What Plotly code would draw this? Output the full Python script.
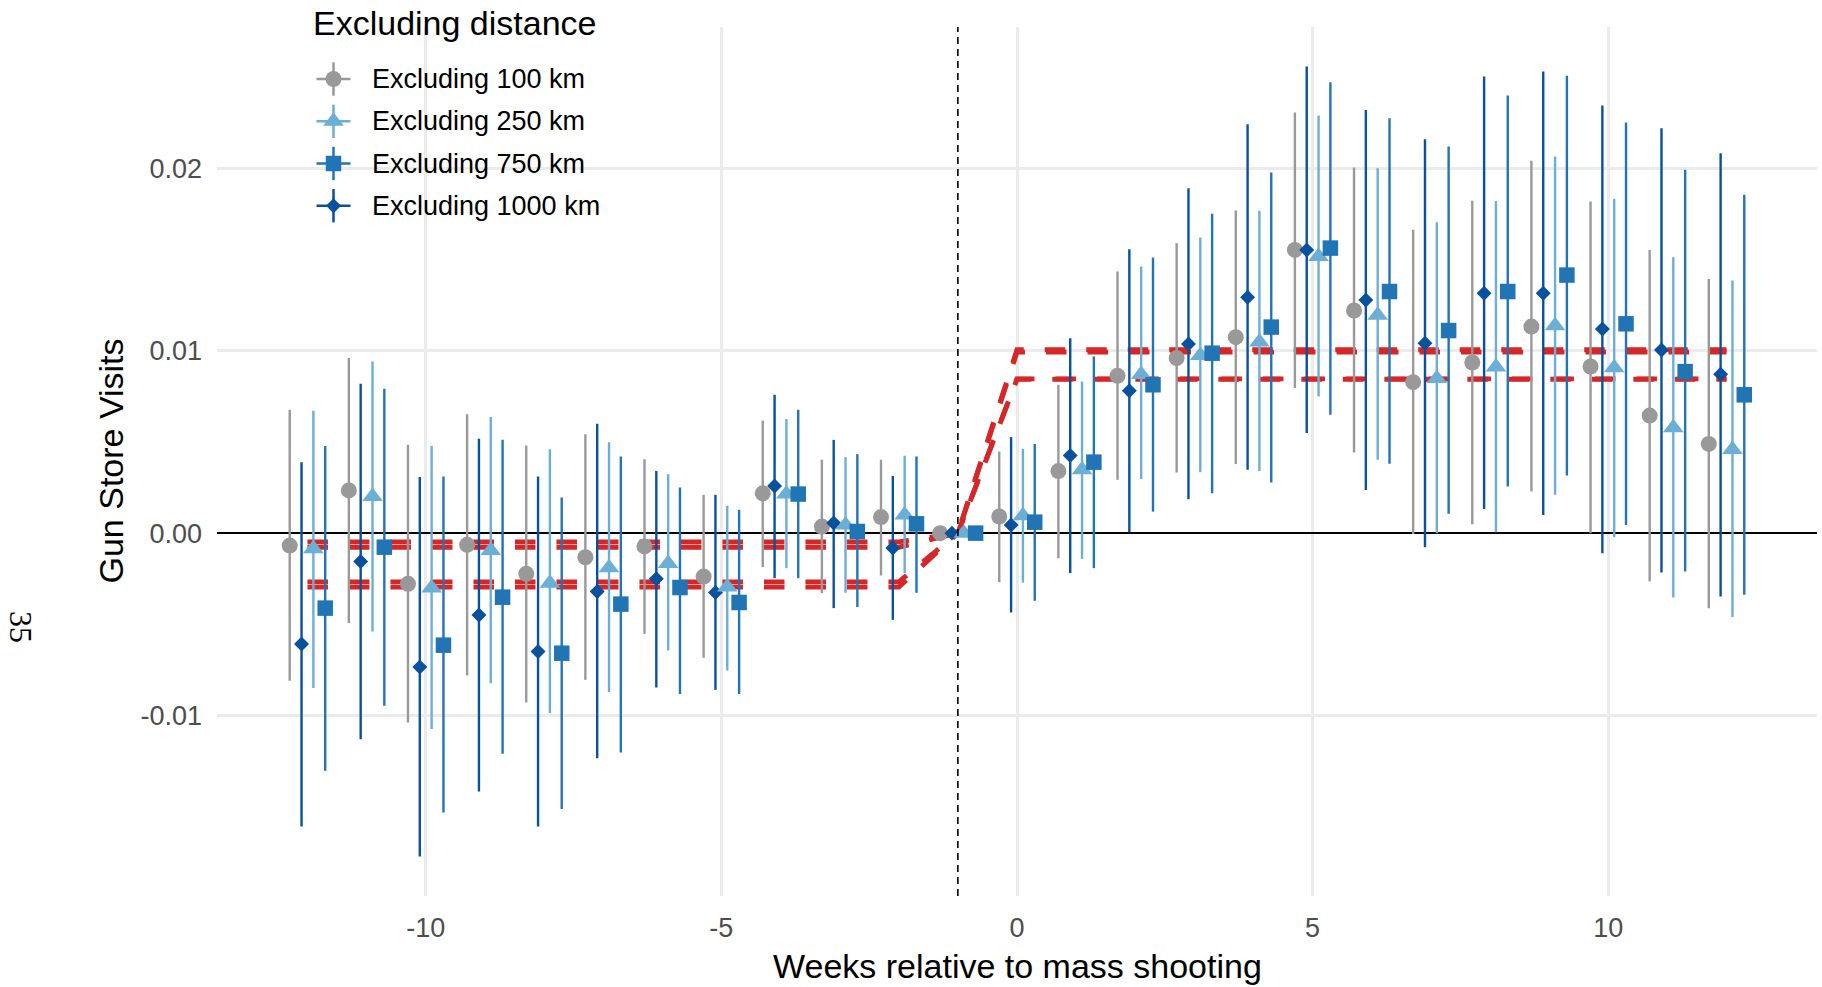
import plotly.graph_objects as go

# ---------------- data ----------------
weeks = list(range(-12, 13))

# Excluding 100 km (grey circles)
est_100 = [-0.00068, 0.00234, -0.00278, -0.00064, -0.00223, -0.00132, -0.00073, -0.00238, 0.00218, 0.00036, 0.00088, 0.0,
           0.00091, 0.00340, 0.00862, 0.00959, 0.01074, 0.01552, 0.01220, 0.00827, 0.00935, 0.01132, 0.00913, 0.00644, 0.00489]
lo_100 = [-0.00809, -0.00493, -0.01038, -0.00780, -0.00928, -0.00804, -0.00552, -0.00683, -0.00186, -0.00329, -0.00232, 0.0,
          -0.00269, -0.00137, 0.00292, 0.00332, 0.00378, 0.00795, 0.00442, -0.00005, 0.00049, 0.00228, 0.0, -0.00265, -0.00411]
hi_100 = [0.00676, 0.00959, 0.00484, 0.00652, 0.00480, 0.00542, 0.00405, 0.00210, 0.00617, 0.00402, 0.00402, 0.0,
          0.00447, 0.00813, 0.01434, 0.01589, 0.01768, 0.02305, 0.02003, 0.01662, 0.01822, 0.02040, 0.01817, 0.01552, 0.01392]

# Excluding 250 km (light blue triangles)
est_250 = [-0.00085, 0.00201, -0.00301, -0.00095, -0.00274, -0.00190, -0.00166, -0.00295, 0.00214, 0.00045, 0.00100, 0.0,
           0.00095, 0.00347, 0.00869, 0.00973, 0.01048, 0.01516, 0.01194, 0.00847, 0.00911, 0.01136, 0.00906, 0.00577, 0.00458]
lo_250 = [-0.00849, -0.00539, -0.01074, -0.00822, -0.00986, -0.00871, -0.00643, -0.00753, -0.00192, -0.00327, -0.00219, 0.0,
          -0.00271, -0.00141, 0.00296, 0.00334, 0.00341, 0.00749, 0.00402, 0.0, 0.00005, 0.00210, -0.00022, -0.00353, -0.00460]
hi_250 = [0.00670, 0.00940, 0.00478, 0.00636, 0.00460, 0.00498, 0.00323, 0.00150, 0.00625, 0.00416, 0.00424, 0.0,
          0.00462, 0.00831, 0.01461, 0.01620, 0.01766, 0.02288, 0.02000, 0.01704, 0.01820, 0.02064, 0.01832, 0.01512, 0.01384]

# Excluding 750 km (blue squares)
est_750 = [-0.00411, -0.00077, -0.00614, -0.00351, -0.00658, -0.00389, -0.00298, -0.00380, 0.00214, 0.00009, 0.00051, 0.0,
           0.00060, 0.00389, 0.00813, 0.00986, 0.01129, 0.01562, 0.01324, 0.01110, 0.01324, 0.01414, 0.01147, 0.00885, 0.00758]
lo_750 = [-0.01302, -0.00946, -0.01531, -0.01209, -0.01512, -0.01202, -0.00882, -0.00882, -0.00247, -0.00405, -0.00327, 0.0,
          -0.00371, -0.00192, 0.00118, 0.00219, 0.00277, 0.00648, 0.00380, 0.00106, 0.00255, 0.00316, 0.00045, -0.00210, -0.00338]
hi_750 = [0.00478, 0.00791, 0.00310, 0.00511, 0.00195, 0.00420, 0.00250, 0.00128, 0.00676, 0.00433, 0.00420, 0.0,
          0.00489, 0.00968, 0.01510, 0.01750, 0.01976, 0.02471, 0.02274, 0.02118, 0.02398, 0.02506, 0.02250, 0.01991, 0.01854]

# Excluding 1000 km (dark blue diamonds)
est_1000 = [-0.00608, -0.00155, -0.00734, -0.00449, -0.00649, -0.00320, -0.00250, -0.00325, 0.00258, 0.00055, -0.00082, 0.0,
            0.00045, 0.00425, 0.00780, 0.01036, 0.01293, 0.01552, 0.01278, 0.01041, 0.01315, 0.01315, 0.01118, 0.01004, 0.00871]
lo_1000 = [-0.01608, -0.01129, -0.01772, -0.01416, -0.01608, -0.01233, -0.00846, -0.00859, -0.00247, -0.00411, -0.00475, 0.0,
           -0.00435, -0.00219, 0.00005, 0.00186, 0.00347, 0.00548, 0.00237, -0.00077, 0.00132, 0.00100, -0.00110, -0.00216, -0.00347]
hi_1000 = [0.00389, 0.00818, 0.00307, 0.00517, 0.00310, 0.00599, 0.00341, 0.00210, 0.00758, 0.00511, 0.00314, 0.0,
           0.00526, 0.01068, 0.01556, 0.01890, 0.02241, 0.02557, 0.02319, 0.02159, 0.02502, 0.02529, 0.02343, 0.02219, 0.02082]

# fitted trend-break lines (red dashed): knots and levels
fit_weeks = [-12, -2, -1, 0, 12]
fit_pre = [-0.00048, -0.00077, -0.00267, -0.00296]
fit_post = [0.01005, 0.00992, 0.00845, 0.00843]

legend_labels = ["Excluding 100 km", "Excluding 250 km", "Excluding 750 km", "Excluding 1000 km"]
y_tickvals = [-0.01, 0.0, 0.01, 0.02]
y_ticktext = ["-0.01", "0.00", "0.01", "0.02"]
x_tickvals = [-10, -5, 0, 5, 10]
x_ticktext = ["-10", "-5", "0", "5", "10"]

# ---------------- styling ----------------
W, H = 1822, 987
L, R, T, B = 217, 5, 27, 91
pw, ph = W - L - R, H - T - B
FONT = "Liberation Sans, Arial, Helvetica, sans-serif"
RED = "#D62728"

def pxx(x):
    return (x - L) / pw

def pxy(y):
    return (H - B - y) / ph

styles = {
    "Excluding 100 km": dict(color="#999999", symbol="circle", size=16, dodge=-0.3),
    "Excluding 1000 km": dict(color="#08519C", symbol="diamond", size=11.5, dodge=-0.1),
    "Excluding 250 km": dict(color="#6BAED6", symbol="triangle-up", size=18, dodge=0.1),
    "Excluding 750 km": dict(color="#2175B4", symbol="square", size=15.5, dodge=0.3),
}
data = {
    "Excluding 100 km": (est_100, lo_100, hi_100),
    "Excluding 1000 km": (est_1000, lo_1000, hi_1000),
    "Excluding 250 km": (est_250, lo_250, hi_250),
    "Excluding 750 km": (est_750, lo_750, hi_750),
}

fig = go.Figure()

# red dashed fitted lines
for pre, post in zip(fit_pre, fit_post):
    fig.add_trace(go.Scatter(
        x=fit_weeks, y=[pre, pre, 0.0, post, post], mode="lines",
        line=dict(color=RED, width=4.9, dash="20.5px,21px"),
        showlegend=False, hoverinfo="skip"))

# point ranges (drawn in factor order)
for name in ["Excluding 100 km", "Excluding 1000 km", "Excluding 250 km", "Excluding 750 km"]:
    est, lo, hi = data[name]
    st = styles[name]
    fig.add_trace(go.Scatter(
        x=[w + st["dodge"] for w in weeks], y=est, mode="markers", name=name,
        marker=dict(color=st["color"], symbol=st["symbol"], size=st["size"], line=dict(width=0)),
        error_y=dict(type="data", symmetric=False,
                     array=[h - e for h, e in zip(hi, est)],
                     arrayminus=[e - l for e, l in zip(est, lo)],
                     color=st["color"], thickness=2.4, width=0),
        showlegend=False))

# axis ranges like ggplot (5% expansion)
all_x = [w + s["dodge"] for w in weeks for s in styles.values()]
xmin, xmax = min(all_x), max(all_x)
xpad = 0.05 * (xmax - xmin)
all_lo = lo_100 + lo_250 + lo_750 + lo_1000
all_hi = hi_100 + hi_250 + hi_750 + hi_1000
ymin, ymax = min(all_lo), max(all_hi)
ypad = 0.05 * (ymax - ymin)

# manual legend on a pixel overlay axis
key_x = 333.5
key_y = [79, 121.3, 163.5, 205.7]
for lab, ky in zip(legend_labels, key_y):
    st = styles[lab]
    fig.add_trace(go.Scatter(x=[key_x - 17, key_x + 17], y=[ky, ky], mode="lines",
                             line=dict(color=st["color"], width=2.5), xaxis="x2", yaxis="y2",
                             showlegend=False, hoverinfo="skip"))
    fig.add_trace(go.Scatter(x=[key_x, key_x], y=[ky - 16.7, ky + 16.7], mode="lines",
                             line=dict(color=st["color"], width=2.5), xaxis="x2", yaxis="y2",
                             showlegend=False, hoverinfo="skip"))
    fig.add_trace(go.Scatter(x=[key_x], y=[ky], mode="markers",
                             marker=dict(color=st["color"], symbol=st["symbol"], size=st["size"], line=dict(width=0)),
                             xaxis="x2", yaxis="y2", showlegend=False, hoverinfo="skip"))

annotations = []
for lab, ky in zip(legend_labels, key_y):
    annotations.append(dict(text=lab, x=370, y=ky, xref="x2", yref="y2", xanchor="left", yanchor="middle",
                            showarrow=False, font=dict(family=FONT, size=27, color="black")))
annotations.append(dict(text="Excluding distance", x=pxx(311), y=pxy(23), xref="paper", yref="paper",
                        xanchor="left", yanchor="middle", showarrow=False,
                        font=dict(family=FONT, size=34, color="black")))
annotations.append(dict(text="Weeks relative to mass shooting", x=0.5, y=pxy(966), xref="paper", yref="paper",
                        xanchor="center", yanchor="middle", showarrow=False,
                        font=dict(family=FONT, size=34, color="black")))
annotations.append(dict(text="Gun Store Visits", x=pxx(110), y=0.5, xref="paper", yref="paper",
                        xanchor="center", yanchor="middle", textangle=-90, showarrow=False,
                        font=dict(family=FONT, size=34, color="black")))
annotations.append(dict(text="35", x=pxx(21), y=pxy(627), xref="paper", yref="paper",
                        xanchor="center", yanchor="middle", textangle=90, showarrow=False,
                        font=dict(family="Liberation Serif, DejaVu Serif, serif", size=32, color="black")))

fig.update_layout(
    width=W, height=H,
    margin=dict(l=L, r=R, t=T, b=B, pad=0),
    paper_bgcolor="white", plot_bgcolor="white",
    font=dict(family=FONT),
    showlegend=False,
    xaxis=dict(range=[xmin - xpad, xmax + xpad], tickvals=x_tickvals, ticktext=x_ticktext,
               showgrid=True, gridcolor="#EBEBEB", gridwidth=2.6, zeroline=False,
               showline=False, ticks="", ticklabelstandoff=13,
               tickfont=dict(family=FONT, size=27, color="#4D4D4D")),
    yaxis=dict(range=[ymin - ypad, ymax + ypad], tickvals=y_tickvals, ticktext=y_ticktext,
               showgrid=True, gridcolor="#EBEBEB", gridwidth=2.6,
               zeroline=True, zerolinecolor="black", zerolinewidth=1.8,
               showline=False, ticks="", ticklabelstandoff=14,
               tickfont=dict(family=FONT, size=27, color="#4D4D4D")),
    xaxis2=dict(overlaying="x", range=[L, W - R], visible=False),
    yaxis2=dict(overlaying="y", range=[H - B, T], visible=False),
    shapes=[dict(type="line", xref="x", yref="paper", x0=-1, x1=-1, y0=0, y1=1,
                 line=dict(color="black", width=1.6, dash="7px,5px"), layer="above")],
    annotations=annotations,
)

fig.write_html(
    "out.html",
    config={"displayModeBar": False},
    post_script="document.body.style.margin='0';document.body.style.padding='0';"
                "document.body.style.overflow='hidden';",
)
